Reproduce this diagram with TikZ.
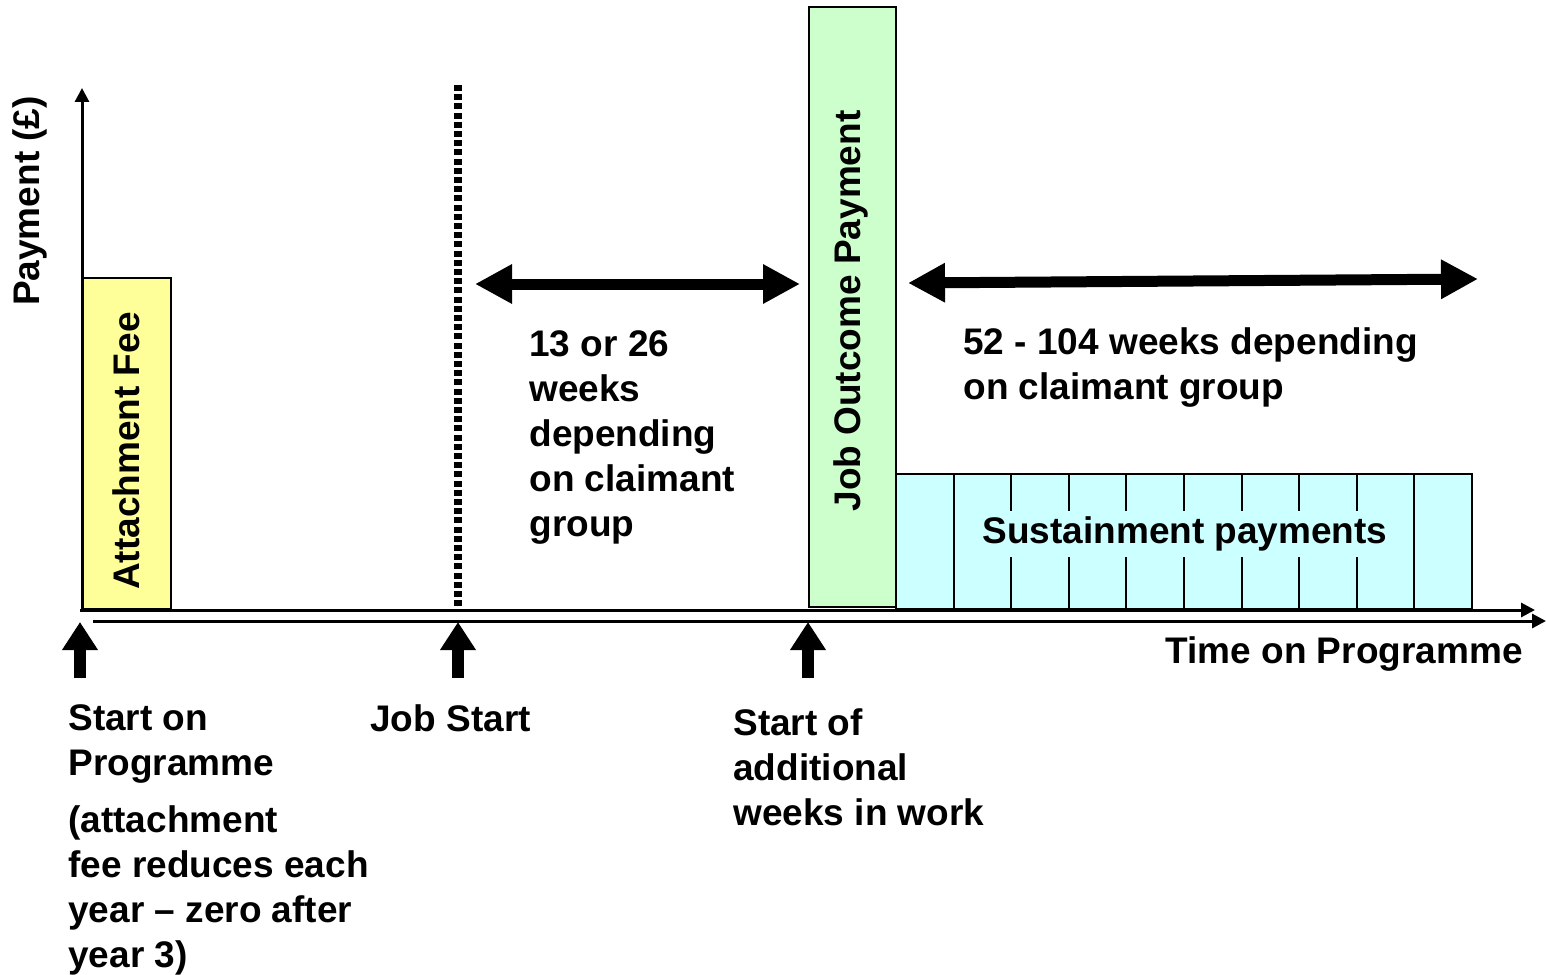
\documentclass[tikz,border=0pt]{standalone}
\usepackage{fontspec}
\setmainfont{Liberation Sans}
\usetikzlibrary{arrows.meta}

\definecolor{feeyellow}{HTML}{FFFF99}
\definecolor{jobgreen}{HTML}{CCFFCC}
\definecolor{sustcyan}{HTML}{CCFFFF}

\begin{document}
\begin{tikzpicture}[x=0.5pt, y=-0.5pt,
    every node/.style={font=\fontsize{18.5}{22.5}\selectfont\bfseries},
    textlabel/.style={inner sep=0pt, align=left, anchor=north west},
    axisline/.style={draw, line width=1.5pt, -{Triangle[length=7pt,width=7pt]}},
    bar/.style={draw, line width=1pt, inner sep=0pt, anchor=south west},
    spanarrow/.style={draw, line width=5.5pt,
        {Triangle[length=18.5pt,width=18.5pt]}-{Triangle[length=18.5pt,width=18.5pt]}},
    uparrow/.style={draw, line width=6pt, -{Triangle[length=14pt,width=17pt]}},
    jobline/.style={draw, line width=4pt, dash pattern=on 3pt off 1.6pt}
]
\useasboundingbox (0,0) rectangle (1546,974);

% bars
\node (attach) [bar, fill=feeyellow, minimum width=44pt, minimum height=165.5pt] at (82,610) {};
\node (outcome) [bar, fill=jobgreen, minimum width=43.5pt, minimum height=300pt] at (808,608) {};
\foreach \i in {1,...,10} {
  \node (sust\i) [bar, fill=sustcyan, minimum width=28.8pt, minimum height=67.5pt]
    at ({895+57.6*(\i-1)},610) {};
}

\node (attachlbl) [rotate=90, inner sep=0pt] at (126,451) {Attachment Fee};
\node (outcomelbl) [rotate=90, inner sep=0pt] at (851,311) {Job Outcome Payment};
\node (sustlbl) [fill=sustcyan, inner sep=3pt] at (1185,534) {Sustainment payments};

% axes
\coordinate (origin) at (80,610);
\coordinate (ytop) at (82,88);
\coordinate (xend) at (1535,610);
\coordinate (lowstart) at (93,621);
\coordinate (lowend) at (1546,621);
\draw[axisline] (82,610) -- (ytop);
\draw[axisline] (origin) -- (xend);
\draw[axisline] (lowstart) -- (lowend);
\node (ylbl) [rotate=90, inner sep=0pt] at (30,201) {Payment (£)};
\node (timelbl) [textlabel, anchor=north east] at (1523,636) {Time on Programme};

% job start line
\coordinate (jobtop) at (458,85);
\coordinate (jobbottom) at (458,610);
\draw[jobline] (jobtop) -- (jobbottom);

% spans
\coordinate (waitleft) at (475,284);
\coordinate (waitright) at (800,284);
\coordinate (sustleft) at (908,283);
\coordinate (sustright) at (1478,279);
\draw[spanarrow] (waitleft) -- (waitright);
\draw[spanarrow] (sustleft) -- (sustright);
\node (waitlbl) [textlabel] at (529,330) {13 or 26\\weeks\\depending\\on claimant\\group};
\node (spanlbl) [textlabel] at (963,327) {52 - 104 weeks depending\\on claimant group};

% markers
\foreach \name/\x in {start/80, job/458, extra/808} {
  \coordinate (\name foot) at (\x,678);
  \coordinate (\name tip) at (\x,622);
  \draw[uparrow] (\name foot) -- (\name tip);
}
\node (startlbl) [textlabel] at (68,704) {Start on\\Programme};
\node (feenote) [textlabel] at (68,805) {(attachment\\fee reduces each\\year – zero after\\year 3)};
\node (joblbl) [textlabel] at (370,704) {Job Start};
\node (extralbl) [textlabel] at (733,708) {Start of\\additional\\weeks in work};

\end{tikzpicture}
\end{document}
